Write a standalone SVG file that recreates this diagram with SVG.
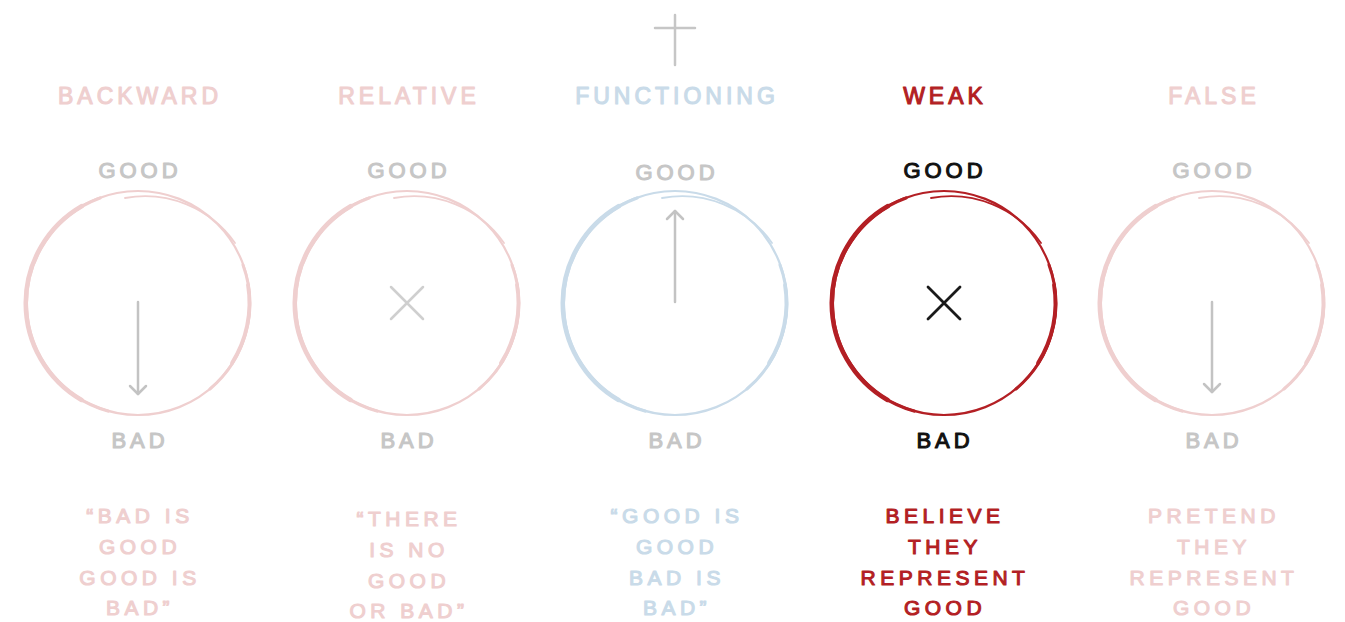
<svg xmlns="http://www.w3.org/2000/svg" width="1345" height="622" viewBox="0 0 1345 622">
<defs>
<style>
text{font-family:"Liberation Sans","DejaVu Sans",sans-serif;text-anchor:middle;stroke-linejoin:round;paint-order:stroke}
.title{font-size:23px;letter-spacing:4px;stroke-width:1.1}
.lbl{font-size:22px;letter-spacing:4px;stroke-width:1.1}
.body{font-size:21px;letter-spacing:4.5px;stroke-width:1.1}
.pink{fill:#efcfcf;stroke:#efcfcf}
.blue{fill:#c9dbe9;stroke:#c9dbe9}
.red{fill:#b31f24;stroke:#b31f24}
.gray{fill:#c6c6c6;stroke:#c6c6c6}
.black{fill:#111;stroke:#111}
.ring{fill:none;stroke-linecap:round}
.arr{fill:none;stroke:#c3c3c3;stroke-width:2.5;stroke-linecap:round}
</style>
<marker id="ah" viewBox="-10 -10 12 20" markerWidth="12" markerHeight="20" markerUnits="userSpaceOnUse" orient="auto" refX="0" refY="0">
<path d="M-8,-8 L0,0 L-8,8" fill="none" stroke="#c3c3c3" stroke-width="2.5" stroke-linecap="round" stroke-linejoin="round"/>
</marker>
</defs>
<rect width="1345" height="622" fill="#fff"/>

<g id="cross">
<path d="M675,15 L675,65 M655,28 L695,28" stroke="#c6c6c6" stroke-width="2.5" fill="none" stroke-linecap="round"/>
</g>

<g id="backward">
<text class="title pink" x="140" y="104">BACKWARD</text>
<text class="lbl gray" x="140" y="178">GOOD</text>
<g class="ring" stroke="#efcfcf">
<circle cx="138" cy="303" r="112" stroke-width="2.2"/>
<path d="M108,411 A112,112 0 0 1 100,198" stroke-width="3.3"/>
<path d="M81.5,400 A112,112 0 0 1 82,206" stroke-width="4.5"/>
<path d="M243,265 A112,112 0 0 1 210,389" stroke-width="3"/>
<path d="M248,285 A112,112 0 0 1 232,363" stroke-width="3.8"/>
<path d="M125,198 A110,110 0 0 1 235,243" stroke-width="1.8"/>
</g>
<path class="arr" d="M138,302 L138,394" marker-end="url(#ah)"/>
<text class="lbl gray" x="140" y="448">BAD</text>
<text class="body pink" x="140" y="523">“BAD IS</text>
<text class="body pink" x="140" y="554">GOOD</text>
<text class="body pink" x="140" y="585">GOOD IS</text>
<text class="body pink" x="140" y="615">BAD”</text>
</g>

<g id="relative">
<text class="title pink" x="409" y="104">RELATIVE</text>
<text class="lbl gray" x="409" y="178">GOOD</text>
<g class="ring" stroke="#efcfcf">
<circle cx="407" cy="303" r="112" stroke-width="2.2"/>
<path d="M377,411 A112,112 0 0 1 369,198" stroke-width="3.3"/>
<path d="M350.5,400 A112,112 0 0 1 351,206" stroke-width="4.5"/>
<path d="M512,265 A112,112 0 0 1 479,389" stroke-width="3"/>
<path d="M517,285 A112,112 0 0 1 501,363" stroke-width="3.8"/>
<path d="M394,198 A110,110 0 0 1 504,243" stroke-width="1.8"/>
</g>
<path d="M391,287 L423,319 M423,287 L391,319" stroke="#cfcfcf" stroke-width="2.5" stroke-linecap="round" fill="none"/>
<text class="lbl gray" x="409" y="448">BAD</text>
<text class="body pink" x="409" y="526">“THERE</text>
<text class="body pink" x="409" y="557">IS NO</text>
<text class="body pink" x="409" y="588">GOOD</text>
<text class="body pink" x="409" y="618">OR BAD”</text>
</g>

<g id="functioning">
<text class="title blue" x="677" y="104">FUNCTIONING</text>
<text class="lbl gray" x="677" y="180">GOOD</text>
<g class="ring" stroke="#c9dbe9">
<circle cx="675" cy="303" r="112" stroke-width="2.2"/>
<path d="M645,411 A112,112 0 0 1 637,198" stroke-width="3.3"/>
<path d="M618.5,400 A112,112 0 0 1 619,206" stroke-width="4.5"/>
<path d="M780,265 A112,112 0 0 1 747,389" stroke-width="3"/>
<path d="M785,285 A112,112 0 0 1 769,363" stroke-width="3.8"/>
<path d="M662,198 A110,110 0 0 1 772,243" stroke-width="1.8"/>
</g>
<path class="arr" d="M675,302 L675,211" marker-end="url(#ah)"/>
<text class="lbl gray" x="677" y="448">BAD</text>
<text class="body blue" x="677" y="523">“GOOD IS</text>
<text class="body blue" x="677" y="554">GOOD</text>
<text class="body blue" x="677" y="585">BAD IS</text>
<text class="body blue" x="677" y="615">BAD”</text>
</g>

<g id="weak">
<text class="title red" x="945" y="104">WEAK</text>
<text class="lbl black" x="945" y="178">GOOD</text>
<g class="ring" stroke="#b31f24">
<circle cx="944" cy="303" r="112" stroke-width="2.2"/>
<path d="M914,411 A112,112 0 0 1 906,198" stroke-width="3.3"/>
<path d="M887.5,400 A112,112 0 0 1 888,206" stroke-width="4.5"/>
<path d="M1049,265 A112,112 0 0 1 1016,389" stroke-width="3"/>
<path d="M1054,285 A112,112 0 0 1 1038,363" stroke-width="3.8"/>
<path d="M931,198 A110,110 0 0 1 1041,243" stroke-width="1.8"/>
</g>
<path d="M928,287 L960,319 M960,287 L928,319" stroke="#1a1a1a" stroke-width="2.8" stroke-linecap="round" fill="none"/>
<text class="lbl black" x="945" y="448">BAD</text>
<text class="body red" x="945" y="523">BELIEVE</text>
<text class="body red" x="945" y="554">THEY</text>
<text class="body red" x="945" y="585">REPRESENT</text>
<text class="body red" x="945" y="615">GOOD</text>
</g>

<g id="false">
<text class="title pink" x="1214" y="104">FALSE</text>
<text class="lbl gray" x="1214" y="178">GOOD</text>
<g class="ring" stroke="#efcfcf">
<circle cx="1212" cy="303" r="112" stroke-width="2.2"/>
<path d="M1182,411 A112,112 0 0 1 1174,198" stroke-width="3.3"/>
<path d="M1155.5,400 A112,112 0 0 1 1156,206" stroke-width="4.5"/>
<path d="M1317,265 A112,112 0 0 1 1284,389" stroke-width="3"/>
<path d="M1322,285 A112,112 0 0 1 1306,363" stroke-width="3.8"/>
<path d="M1199,198 A110,110 0 0 1 1309,243" stroke-width="1.8"/>
</g>
<path class="arr" d="M1212,302 L1212,392" marker-end="url(#ah)"/>
<text class="lbl gray" x="1214" y="448">BAD</text>
<text class="body pink" x="1214" y="523">PRETEND</text>
<text class="body pink" x="1214" y="554">THEY</text>
<text class="body pink" x="1214" y="585">REPRESENT</text>
<text class="body pink" x="1214" y="615">GOOD</text>
</g>
</svg>
